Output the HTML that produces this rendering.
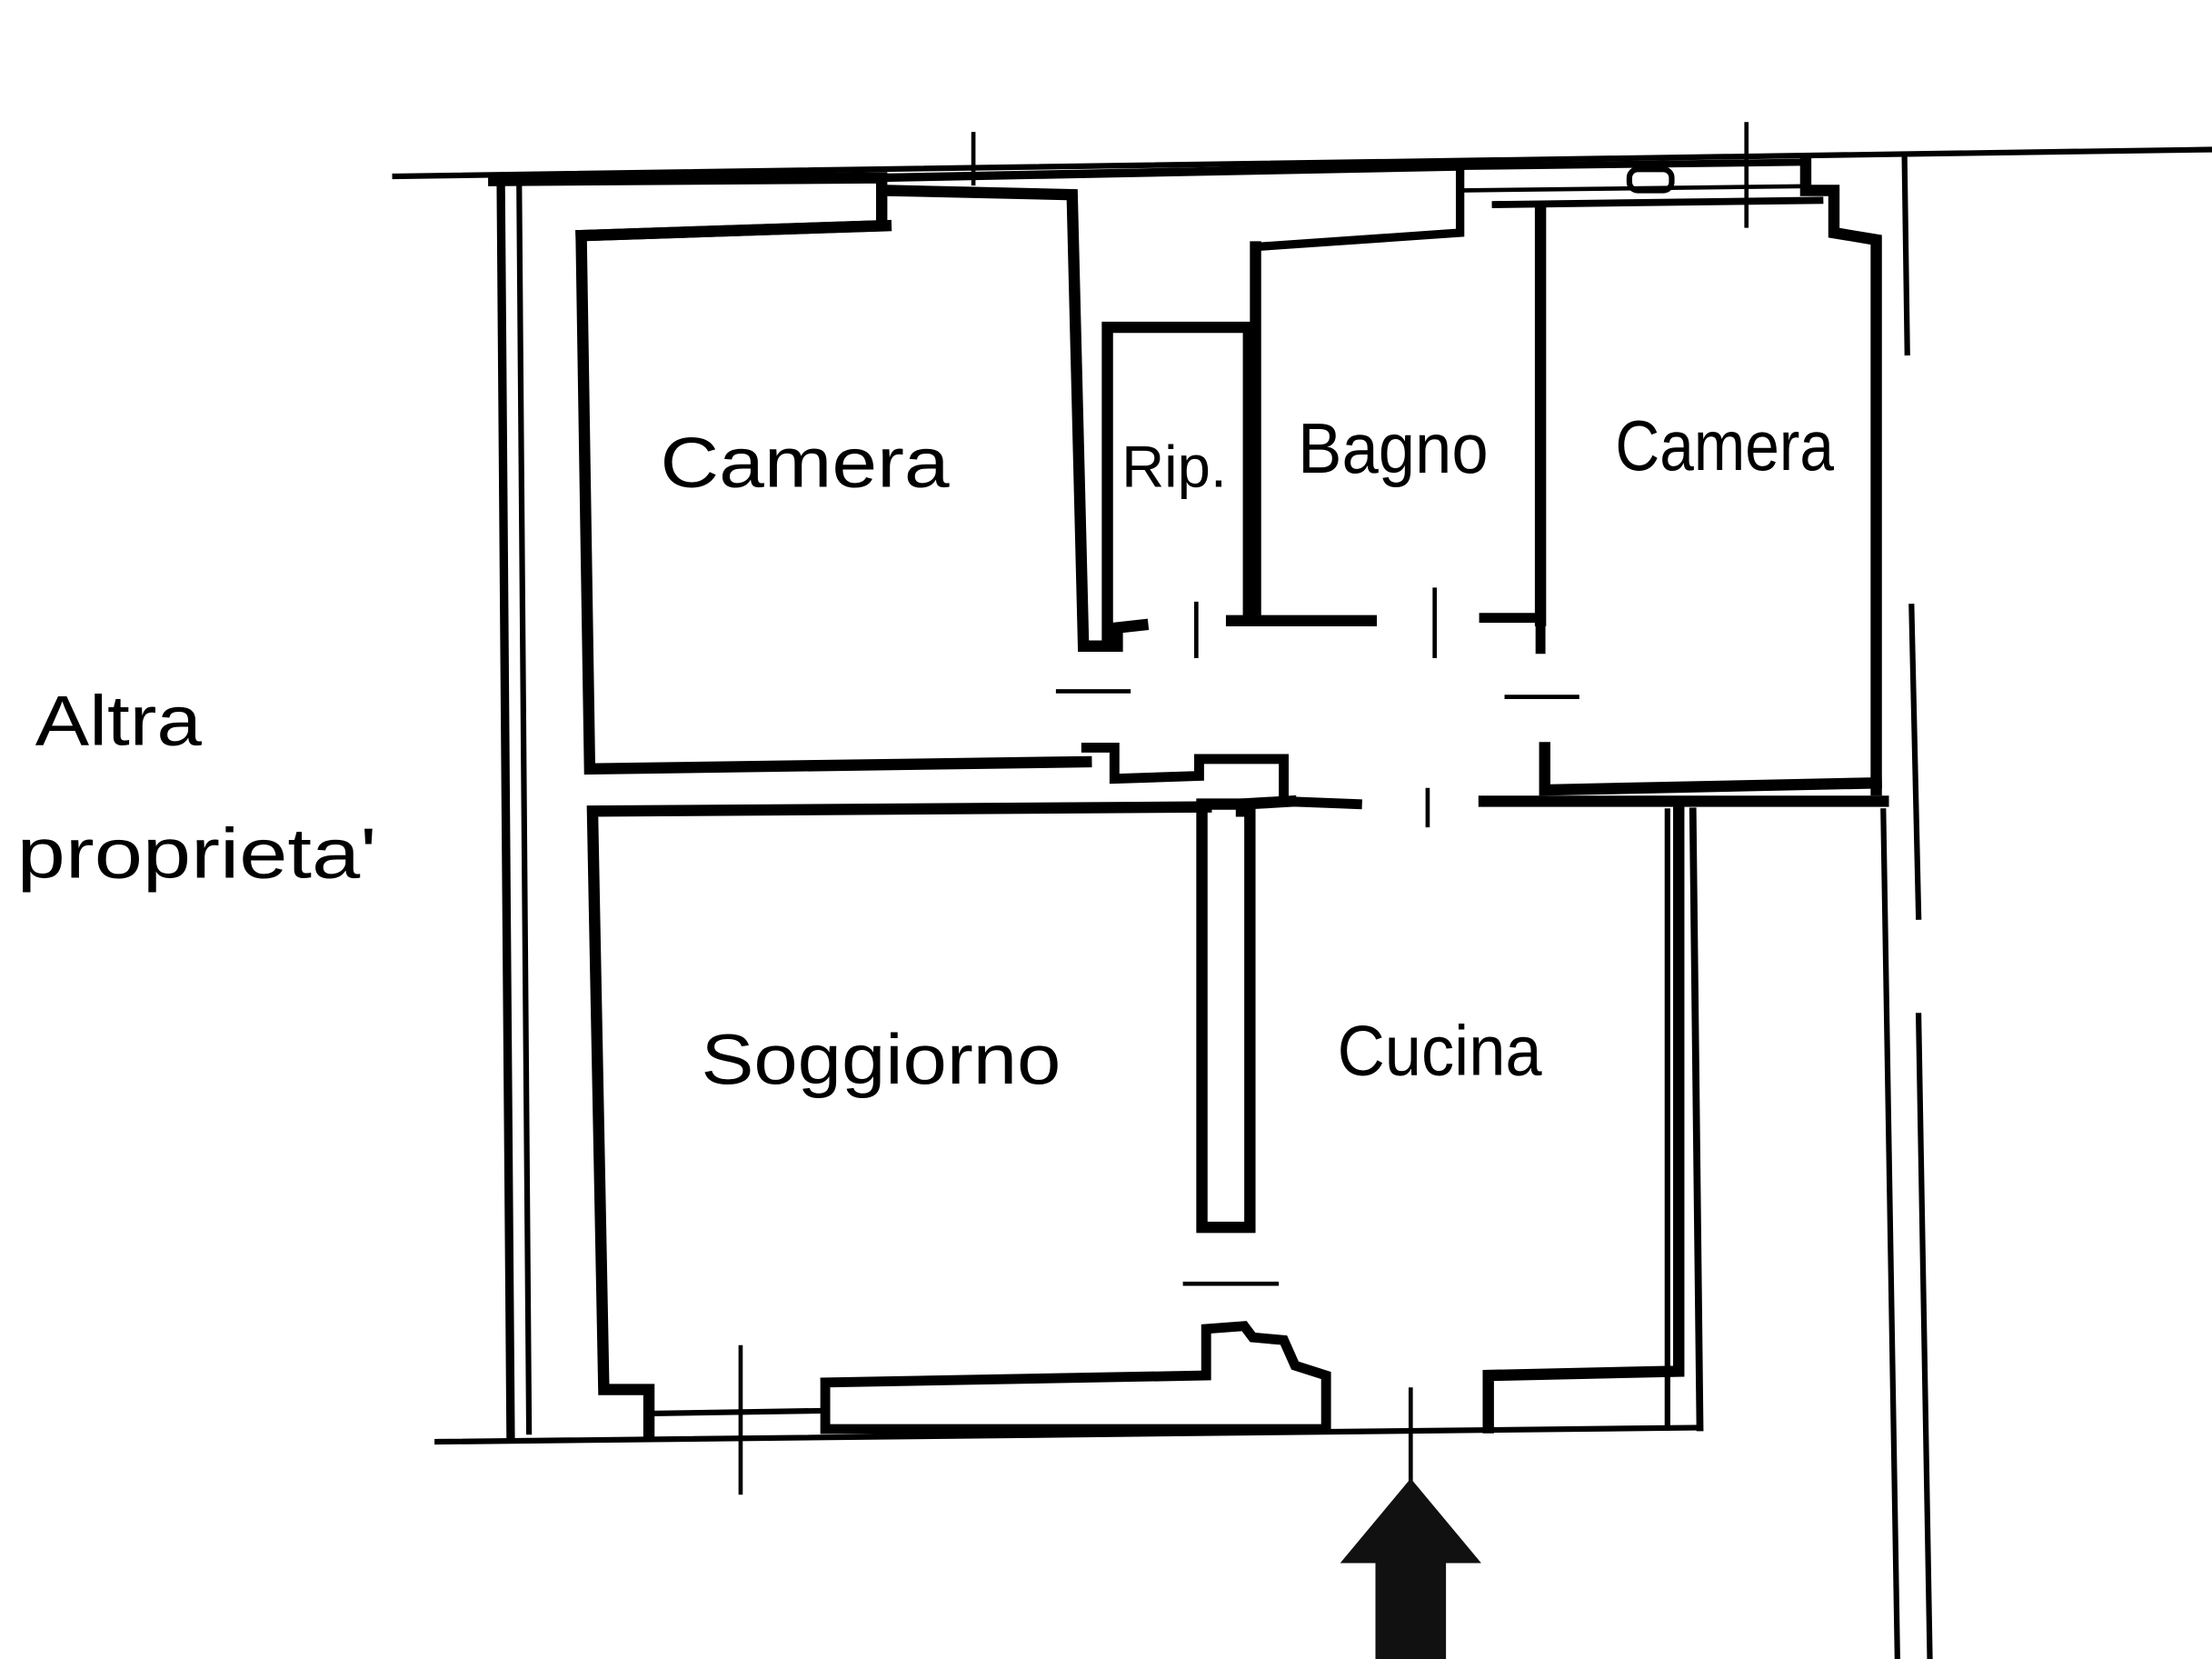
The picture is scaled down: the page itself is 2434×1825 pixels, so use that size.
<!DOCTYPE html>
<html><head><meta charset="utf-8"><style>
html,body{margin:0;padding:0;background:#fff;width:2434px;height:1825px;overflow:hidden}
svg{display:block}
text{font-family:"Liberation Sans",sans-serif;fill:#000}
</style></head><body>
<svg width="2434" height="1825" viewBox="0 0 1568 1176" preserveAspectRatio="none">
<g fill="none" stroke="#000" stroke-linecap="square">
<!-- top boundary -->
<line x1="280" y1="125" x2="1568" y2="106" stroke-width="4"/>
<line x1="690" y1="95" x2="690" y2="130" stroke-width="3"/>
<line x1="1238" y1="88" x2="1238" y2="160" stroke-width="3"/>
<!-- outer top wall -->
<polyline points="350,128 625,126 625,160 412,167" stroke-width="8"/>
<polyline points="625,126 1035,118 1035,165 890,175" stroke-width="6"/>
<line x1="1035" y1="118" x2="1280" y2="115" stroke-width="5"/>
<line x1="1035" y1="135" x2="1280" y2="132" stroke-width="3"/>
<rect x="1155" y="120" width="30" height="15" rx="6" stroke-width="4"/>
<polyline points="1280,115 1280,135 1300,135 1300,165 1330,170 1330,560" stroke-width="8"/>
<!-- left outer wall -->
<line x1="355" y1="128" x2="362" y2="1020" stroke-width="6"/>
<line x1="368" y1="130" x2="375" y2="1015" stroke-width="4"/>
<!-- Camera left -->
<polyline points="628,160 412,167 418,545 770,540" stroke-width="8"/>
<polyline points="628,135 760,138 768,458 792,458 792,445 810,443" stroke-width="8"/>
<polyline points="770,530 790,530 790,552 850,550 850,538 910,538 910,568 962,570" stroke-width="7"/>
<!-- Rip -->
<polyline points="785,450 785,232 885,232 885,440" stroke-width="8"/>
<!-- Bagno -->
<polyline points="873,440 972,440" stroke-width="8"/>
<polyline points="890,440 890,175" stroke-width="8"/>
<polyline points="1052,438 1092,438 1092,460" stroke-width="7"/>
<line x1="1092" y1="148" x2="1092" y2="440" stroke-width="8"/>
<line x1="1060" y1="145" x2="1290" y2="142" stroke-width="5"/>
<!-- Camera right bottom -->
<polyline points="1095,530 1095,560 1330,555" stroke-width="8"/>
<polyline points="1052,568 1335,568" stroke-width="8"/>
<!-- Soggiorno -->
<polyline points="855,572 420,575 428,985 460,985 460,1015" stroke-width="8"/>
<rect x="852" y="570" width="34" height="300" stroke-width="8"/>
<!-- bottom wall -->
<polyline points="585,985 585,1013 940,1013 940,975 918,968 910,950 888,948 882,940 855,942 855,975 585,980" stroke-width="7"/>
<line x1="460" y1="1002" x2="585" y2="1000" stroke-width="4"/>
<line x1="310" y1="1022" x2="1205" y2="1012" stroke-width="4"/>
<line x1="525" y1="955" x2="525" y2="1058" stroke-width="3"/>
<line x1="1000" y1="985" x2="1000" y2="1050" stroke-width="3"/>
<!-- Cucina -->
<polyline points="880,575 880,570 915,568" stroke-width="8"/>
<polyline points="1055,1012 1055,975 1190,972 1190,575" stroke-width="8"/>
<line x1="1182" y1="575" x2="1182" y2="1012" stroke-width="4"/>
<line x1="1200" y1="575" x2="1205" y2="1012" stroke-width="5"/>
<!-- door marks -->
<line x1="750" y1="490" x2="800" y2="490" stroke-width="3"/>
<line x1="1068" y1="494" x2="1118" y2="494" stroke-width="3"/>
<line x1="840" y1="910" x2="905" y2="910" stroke-width="3"/>
<line x1="848" y1="428" x2="848" y2="465" stroke-width="3"/>
<line x1="1017" y1="418" x2="1017" y2="465" stroke-width="3"/>
<line x1="1012" y1="560" x2="1012" y2="585" stroke-width="3"/>
<!-- right lines -->
<line x1="1350" y1="110" x2="1352" y2="250" stroke-width="4"/>
<line x1="1355" y1="430" x2="1360" y2="650" stroke-width="4"/>
<line x1="1360" y1="720" x2="1368" y2="1176" stroke-width="4"/>
<line x1="1335" y1="575" x2="1345" y2="1176" stroke-width="4"/>
</g>
<polygon points="950,1108 1000,1048 1050,1108 1025,1108 1025,1176 975,1176 975,1108" fill="#111"/>
<g font-size="50">
<text x="468" y="345" textLength="205" lengthAdjust="spacingAndGlyphs">Camera</text>
<text x="795" y="345" font-size="42">Rip.</text>
<text x="920" y="335" textLength="135" lengthAdjust="spacingAndGlyphs">Bagno</text>
<text x="1145" y="333" textLength="155" lengthAdjust="spacingAndGlyphs">Camera</text>
<text x="497" y="768" textLength="255" lengthAdjust="spacingAndGlyphs">Soggiorno</text>
<text x="948" y="762" textLength="145" lengthAdjust="spacingAndGlyphs">Cucina</text>
<text x="25" y="528" textLength="118" lengthAdjust="spacingAndGlyphs">Altra</text>
<text x="12" y="622" textLength="255" lengthAdjust="spacingAndGlyphs">proprieta'</text>
</g>
</svg>
</body></html>
